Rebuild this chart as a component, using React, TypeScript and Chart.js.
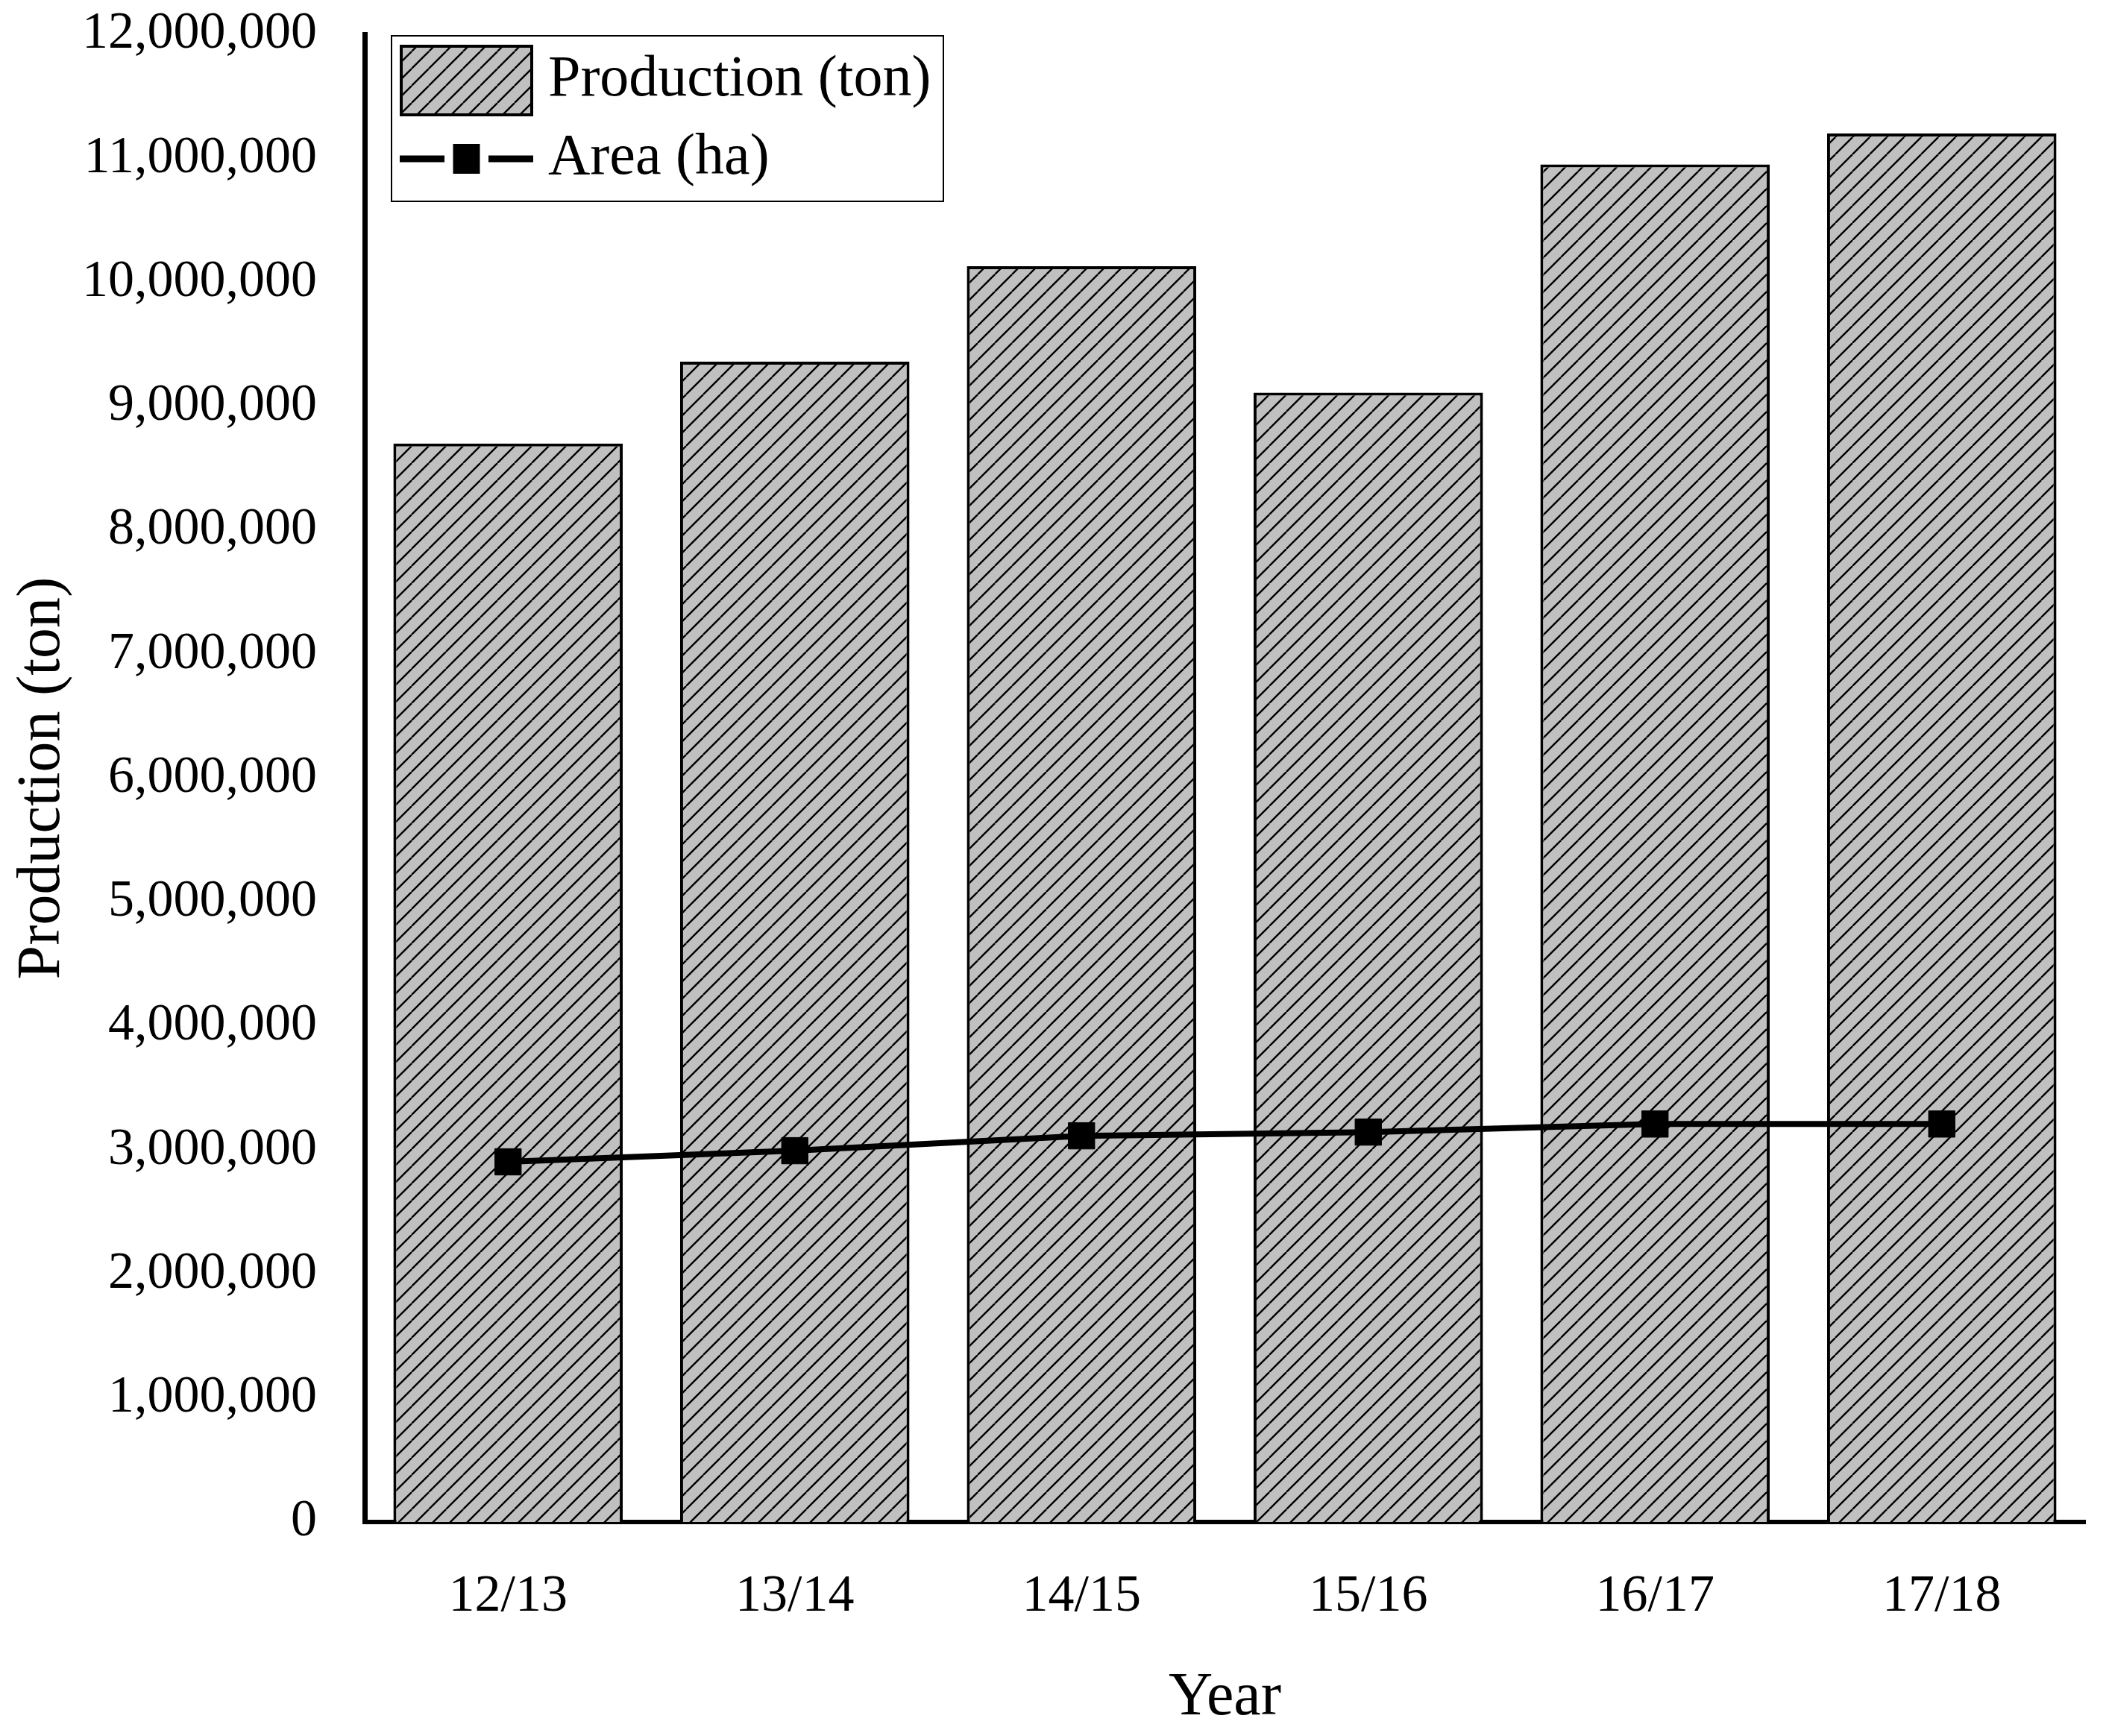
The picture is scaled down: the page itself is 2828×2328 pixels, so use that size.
import { useEffect, useRef } from 'react';
import { Chart, registerables } from 'chart.js';

Chart.register(...registerables);

const categories = ['12/13', '13/14', '14/15', '15/16', '16/17', '17/18'];
const productionTon = [8700000, 9360000, 10130000, 9110000, 10950000, 11200000];
const areaHa = [2905000, 2995000, 3115000, 3145000, 3210000, 3210000];
const seriesLabels = ['Production (ton)', 'Area (ha)'];
const yMin = 0;
const yMax = 12000000;
const yStep = 1000000;
const xTitle = 'Year';
const yTitle = 'Production (ton)';

const W = 2828;
const H = 2328;
const FONT = "'Liberation Serif', 'Times New Roman', serif";

function makeHatch(): CanvasPattern | string {
  const t = 23;
  const c = document.createElement('canvas');
  c.width = t;
  c.height = t;
  const g = c.getContext('2d');
  if (!g) return '#c0c0c0';
  g.fillStyle = '#c0c0c0';
  g.fillRect(0, 0, t, t);
  g.strokeStyle = '#000';
  g.lineWidth = 2.4;
  for (let k = -1; k <= 1; k++) {
    g.beginPath();
    g.moveTo(k * t, t);
    g.lineTo(k * t + t, 0);
    g.stroke();
  }
  const p = g.createPattern(c, 'repeat');
  return p || '#c0c0c0';
}

export default function App() {
  const ref = useRef<HTMLCanvasElement | null>(null);

  useEffect(() => {
    const canvas = ref.current;
    if (!canvas) return;
    const hatch = makeHatch();

    const legendPlugin = {
      id: 'boxLegend',
      afterDraw(chart: any) {
        const { ctx, chartArea } = chart;
        const x0 = chartArea.left + 36;
        const y0 = chartArea.top + 2;
        const w = 740;
        const h = 222;
        ctx.save();
        ctx.fillStyle = '#fff';
        ctx.fillRect(x0, y0, w, h);
        ctx.strokeStyle = '#000';
        ctx.lineWidth = 2;
        ctx.strokeRect(x0, y0, w, h);
        const sx = x0 + 11;
        const sy = y0 + 12;
        const sw = 179;
        const sh = 96;
        ctx.fillStyle = hatch;
        ctx.fillRect(sx, sy, sw, sh);
        ctx.lineWidth = 4;
        ctx.strokeRect(sx + 2, sy + 2, sw - 4, sh - 4);
        ctx.fillStyle = '#000';
        ctx.font = `78px ${FONT}`;
        ctx.textBaseline = 'middle';
        ctx.textAlign = 'left';
        ctx.fillText(chart.data.datasets[0].label, x0 + 210, sy + sh / 2);
        const ly = y0 + 165;
        ctx.lineWidth = 9;
        ctx.beginPath();
        ctx.moveTo(sx, ly);
        ctx.lineTo(sx + 60, ly);
        ctx.moveTo(sx + sw - 60, ly);
        ctx.lineTo(sx + sw, ly);
        ctx.stroke();
        ctx.fillRect(sx + sw / 2 - 18, ly - 20, 36, 40);
        ctx.fillText(chart.data.datasets[1].label, x0 + 210, ly);
        ctx.restore();
      },
    };

    const chart = new Chart(canvas, {
      type: 'bar',
      data: {
        labels: categories,
        datasets: [
          {
            type: 'bar',
            label: seriesLabels[0],
            data: productionTon,
            backgroundColor: hatch as any,
            borderColor: '#000',
            borderWidth: 4,
            categoryPercentage: 0.8,
            barPercentage: 1.0,
            order: 1,
          },
          {
            type: 'line',
            label: seriesLabels[1],
            data: areaHa,
            borderColor: '#000',
            backgroundColor: '#000',
            borderWidth: 8,
            pointStyle: 'rect',
            pointRadius: 25,
            pointBorderWidth: 1,
            pointBackgroundColor: '#000',
            pointBorderColor: '#000',
            tension: 0,
            fill: false,
            order: 0,
          } as any,
        ],
      },
      options: {
        responsive: false,
        animation: false,
        devicePixelRatio: 1,
        layout: { padding: { left: 0, right: 32, top: 46, bottom: 0 } },
        plugins: {
          legend: { display: false },
          tooltip: { enabled: false },
        },
        scales: {
          x: {
            type: 'category',
            offset: true,
            grid: { display: false, drawTicks: false, tickLength: 0 },
            border: { display: true, color: '#000', width: 6 },
            ticks: {
              color: '#000',
              font: { family: FONT, size: 70 },
              padding: 59,
              maxRotation: 0,
            },
            title: {
              display: true,
              text: xTitle,
              color: '#000',
              font: { family: FONT, size: 82, lineHeight: 1.2 },
              padding: { top: 0, bottom: 1 },
            },
            afterFit(scale: any) {
              scale.height = 287;
              scale.paddingLeft = 0;
              scale.paddingRight = 0;
            },
          },
          y: {
            type: 'linear',
            min: yMin,
            max: yMax,
            grid: { display: false, drawTicks: false, tickLength: 0 },
            border: { display: true, color: '#000', width: 7 },
            ticks: {
              stepSize: yStep,
              color: '#000',
              font: { family: FONT, size: 70 },
              padding: 64,
              callback: (v: any) => Number(v).toLocaleString('en-US'),
            },
            title: {
              display: true,
              text: yTitle,
              color: '#000',
              font: { family: FONT, size: 82, lineHeight: 1.2 },
              padding: { top: 8, bottom: 0 },
            },
            afterFit(scale: any) {
              scale.width = 489;
              scale.paddingTop = 0;
              scale.paddingBottom = 0;
            },
          },
        },
      },
      plugins: [legendPlugin],
    });

    return () => {
      chart.destroy();
    };
  }, []);

  return (
    <div style={{ position: 'absolute', left: 0, top: 0, width: W, height: H, background: '#fff' }}>
      <canvas ref={ref} width={W} height={H} style={{ width: W, height: H, display: 'block' }} />
    </div>
  );
}
